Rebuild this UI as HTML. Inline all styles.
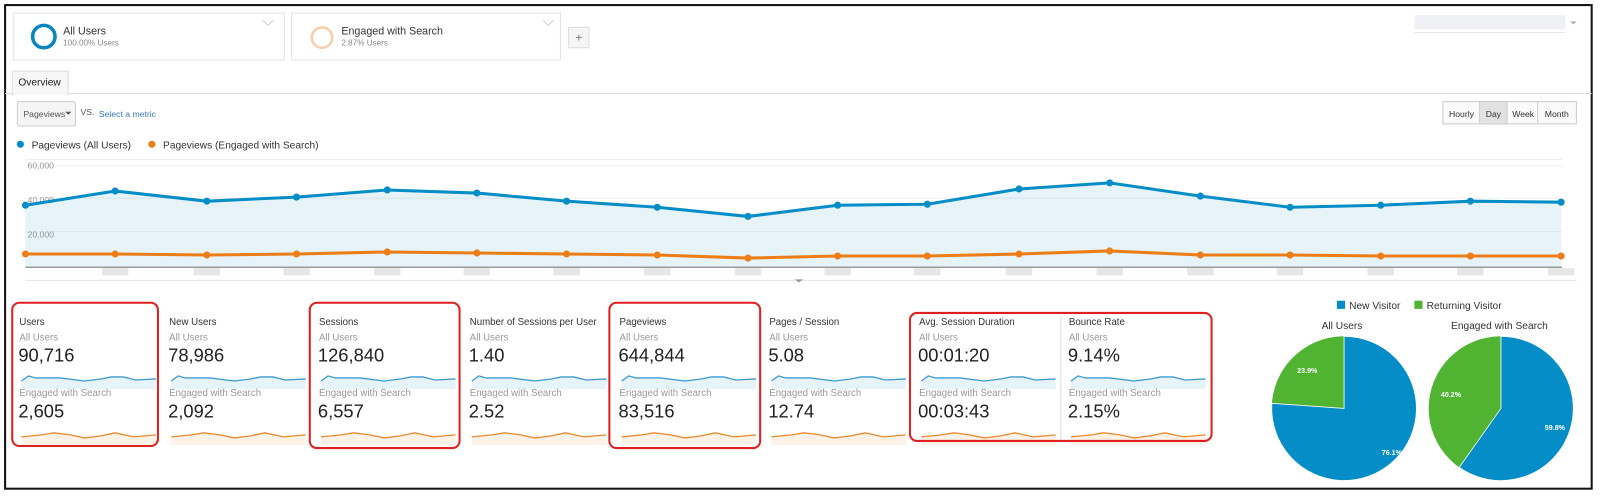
<!DOCTYPE html>
<html><head><meta charset="utf-8"><style>
html,body{margin:0;padding:0;background:#fff;width:1600px;height:497px;overflow:hidden;}
svg{display:block;font-family:"Liberation Sans",Arial,sans-serif;}
</style></head><body>
<svg width="1600" height="497" viewBox="0 0 1600 497" xmlns="http://www.w3.org/2000/svg">
<rect x="0" y="0" width="1600" height="497" fill="#fff"/>
<g transform="scale(1.019,1.016)">
<rect x="5" y="5" width="1557" height="476" fill="none" stroke="#111" stroke-width="2"/>
<!-- segments -->
<rect x="13" y="13" width="266" height="46" fill="#fff" stroke="#e3e3e3"/>
<circle cx="43" cy="36" r="11" fill="none" stroke="#0a85c0" stroke-width="3.5"/>
<text x="62" y="34" font-size="10.5" fill="#333">All Users</text>
<text x="62" y="45" font-size="8" fill="#888">100.00% Users</text>
<path d="M258 20 l5 5 l5 -5" fill="none" stroke="#ccc"/>
<rect x="286" y="13" width="264" height="46" fill="#fff" stroke="#e3e3e3"/>
<circle cx="316" cy="37" r="10" fill="none" stroke="#f6cfa8" stroke-width="2.5"/>
<text x="335" y="34" font-size="10.5" fill="#333">Engaged with Search</text>
<text x="335" y="45" font-size="8" fill="#888">2.87% Users</text>
<path d="M533 20 l5 5 l5 -5" fill="none" stroke="#ccc"/>
<rect x="558" y="27" width="20" height="20" fill="#f5f5f5" stroke="#ddd"/>
<text x="568" y="41" font-size="12" fill="#777" text-anchor="middle">+</text>
<rect x="1388" y="15" width="148" height="14" fill="#eef0f3"/>
<line x1="1388" y1="32" x2="1536" y2="32" stroke="#e8e8e8"/>
<path d="M1541 21 l3 3 l3 -3z" fill="#aaa"/>
<!-- tab -->
<line x1="5" y1="92" x2="1562" y2="92" stroke="#ddd"/>
<rect x="12" y="70" width="55" height="23" fill="#f7f7f7" stroke="#ddd"/>
<rect x="13" y="91" width="53" height="3" fill="#f7f7f7"/>
<text x="18" y="84" font-size="10" fill="#222">Overview</text>
<rect x="17" y="100" width="57" height="24" fill="#f5f5f5" stroke="#ccc" rx="2"/>
<text x="23" y="115" font-size="8.5" fill="#555">Pageviews</text>
<path d="M64 110 l3 3 l3 -3z" fill="#555"/>
<text x="79" y="113" font-size="8.5" fill="#555">VS.</text>
<text x="97" y="115" font-size="8.5" fill="#3a7bc0">Select a metric</text>
<g font-size="8.5" fill="#333">
<rect x="1416" y="100" width="131" height="22" fill="#fafafa" stroke="#ccc"/>
<rect x="1452" y="100" width="27" height="22" fill="#e2e2e2" stroke="#ccc"/>
<line x1="1509" y1="100" x2="1509" y2="122" stroke="#ccc"/>
<text x="1422" y="115">Hourly</text><text x="1458" y="115">Day</text><text x="1484" y="115">Week</text><text x="1516" y="115">Month</text>
</g>
<!-- legend -->
<circle cx="20" cy="142" r="3.5" fill="#058dc7"/>
<text x="31" y="146" font-size="10" fill="#333">Pageviews (All Users)</text>
<circle cx="149" cy="142" r="3.5" fill="#ed7e17"/>
<text x="160" y="146" font-size="10" fill="#333">Pageviews (Engaged with Search)</text>
<!-- chart -->
<line x1="25" y1="157" x2="1533" y2="157" stroke="#eee"/>
<line x1="25" y1="163" x2="1533" y2="163" stroke="#f0f0f0"/>
<line x1="25" y1="195" x2="1533" y2="195" stroke="#f0f0f0"/>
<line x1="25" y1="228" x2="1533" y2="228" stroke="#f0f0f0"/>
<g font-size="8.5" fill="#999"><text x="27" y="166">60,000</text><text x="27" y="200">40,000</text><text x="27" y="234">20,000</text></g>
<polygon fill="#058dc7" fill-opacity="0.1" points="25,262 25,202 113,188 203,198 291,194 380,187 468,190 556,198 645,204 734,213 822,202 910,201 1000,186 1089,180 1178,193 1266,204 1355,202 1443,198 1532,199 1532,262"/>
<polyline fill="none" stroke="#058dc7" stroke-width="3" points="25,202 113,188 203,198 291,194 380,187 468,190 556,198 645,204 734,213 822,202 910,201 1000,186 1089,180 1178,193 1266,204 1355,202 1443,198 1532,199"/>
<g fill="#058dc7"><circle cx="25" cy="202" r="3.5"/><circle cx="113" cy="188" r="3.5"/><circle cx="203" cy="198" r="3.5"/><circle cx="291" cy="194" r="3.5"/><circle cx="380" cy="187" r="3.5"/><circle cx="468" cy="190" r="3.5"/><circle cx="556" cy="198" r="3.5"/><circle cx="645" cy="204" r="3.5"/><circle cx="734" cy="213" r="3.5"/><circle cx="822" cy="202" r="3.5"/><circle cx="910" cy="201" r="3.5"/><circle cx="1000" cy="186" r="3.5"/><circle cx="1089" cy="180" r="3.5"/><circle cx="1178" cy="193" r="3.5"/><circle cx="1266" cy="204" r="3.5"/><circle cx="1355" cy="202" r="3.5"/><circle cx="1443" cy="198" r="3.5"/><circle cx="1532" cy="199" r="3.5"/></g>
<polyline fill="none" stroke="#ed7e17" stroke-width="3" points="25,250 113,250 203,251 291,250 380,248 468,249 556,250 645,251 734,254 822,252 910,252 1000,250 1089,247 1178,251 1266,251 1355,252 1443,252 1532,252"/>
<g fill="#ed7e17"><circle cx="25" cy="250" r="3.5"/><circle cx="113" cy="250" r="3.5"/><circle cx="203" cy="251" r="3.5"/><circle cx="291" cy="250" r="3.5"/><circle cx="380" cy="248" r="3.5"/><circle cx="468" cy="249" r="3.5"/><circle cx="556" cy="250" r="3.5"/><circle cx="645" cy="251" r="3.5"/><circle cx="734" cy="254" r="3.5"/><circle cx="822" cy="252" r="3.5"/><circle cx="910" cy="252" r="3.5"/><circle cx="1000" cy="250" r="3.5"/><circle cx="1089" cy="247" r="3.5"/><circle cx="1178" cy="251" r="3.5"/><circle cx="1266" cy="251" r="3.5"/><circle cx="1355" cy="252" r="3.5"/><circle cx="1443" cy="252" r="3.5"/><circle cx="1532" cy="252" r="3.5"/></g>
<line x1="25" y1="263" x2="1533" y2="263" stroke="#999" stroke-width="1.5"/>
<g fill="#e6e6e6">
<rect x="100" y="264" width="26" height="7"/><rect x="190" y="264" width="26" height="7"/><rect x="278" y="264" width="26" height="7"/><rect x="367" y="264" width="26" height="7"/><rect x="455" y="264" width="26" height="7"/><rect x="543" y="264" width="26" height="7"/><rect x="632" y="264" width="26" height="7"/><rect x="721" y="264" width="26" height="7"/><rect x="809" y="264" width="26" height="7"/><rect x="897" y="264" width="26" height="7"/><rect x="987" y="264" width="26" height="7"/><rect x="1076" y="264" width="26" height="7"/><rect x="1165" y="264" width="26" height="7"/><rect x="1253" y="264" width="26" height="7"/><rect x="1342" y="264" width="26" height="7"/><rect x="1430" y="264" width="26" height="7"/><rect x="1519" y="264" width="26" height="7"/>
</g>
<line x1="25" y1="276" x2="1547" y2="276" stroke="#e4e4e4"/>
<path d="M780 275 l4 3 l4 -3z" fill="#999"/>
<!-- metrics -->
<g font-size="9.5" fill="#333">
<text x="19" y="320">Users</text><text x="166" y="320">New Users</text><text x="313" y="320">Sessions</text><text x="461" y="320">Number of Sessions per User</text><text x="608" y="320">Pageviews</text><text x="755" y="320">Pages / Session</text><text x="902" y="320">Avg. Session Duration</text><text x="1049" y="320">Bounce Rate</text>
</g>
<g font-size="9.5" fill="#999">
<text x="19" y="335">All Users</text><text x="166" y="335">All Users</text><text x="313" y="335">All Users</text><text x="461" y="335">All Users</text><text x="608" y="335">All Users</text><text x="755" y="335">All Users</text><text x="902" y="335">All Users</text><text x="1049" y="335">All Users</text>
<text x="19" y="390">Engaged with Search</text><text x="166" y="390">Engaged with Search</text><text x="313" y="390">Engaged with Search</text><text x="461" y="390">Engaged with Search</text><text x="608" y="390">Engaged with Search</text><text x="755" y="390">Engaged with Search</text><text x="902" y="390">Engaged with Search</text><text x="1049" y="390">Engaged with Search</text>
</g>
<g font-size="18" fill="#222">
<text x="18" y="356">90,716</text><text x="165" y="356">78,986</text><text x="312" y="356">126,840</text><text x="460" y="356">1.40</text><text x="607" y="356">644,844</text><text x="754" y="356">5.08</text><text x="901" y="356">00:01:20</text><text x="1048" y="356">9.14%</text>
<text x="18" y="411">2,605</text><text x="165" y="411">2,092</text><text x="312" y="411">6,557</text><text x="460" y="411">2.52</text><text x="607" y="411">83,516</text><text x="754" y="411">12.74</text><text x="901" y="411">00:03:43</text><text x="1048" y="411">2.15%</text>
</g>
<defs>
<g id="sb"><path d="M0 8 L7 3 L14 5 L38 5 L62 8 L78 6 L88 4 L100 4 L112 7 L130 6 L132 6 L132 16 L0 16Z" fill="#058dc7" fill-opacity="0.1"/><path d="M0 8 L7 3 L14 5 L38 5 L62 8 L78 6 L88 4 L100 4 L112 7 L132 6" fill="none" stroke="#3d9bd0" stroke-width="1.3"/></g>
<g id="so"><path d="M0 8 L20 6 L32 4 L48 6 L62 9 L78 7 L92 4 L110 8 L132 6 L132 16 L0 16Z" fill="#ed7e17" fill-opacity="0.1"/><path d="M0 8 L20 6 L32 4 L48 6 L62 9 L78 7 L92 4 L110 8 L132 6" fill="none" stroke="#ed8a2e" stroke-width="1.3"/></g>
</defs>
<use href="#sb" x="21" y="367"/><use href="#sb" x="168" y="367"/><use href="#sb" x="315" y="367"/><use href="#sb" x="463" y="367"/><use href="#sb" x="610" y="367"/><use href="#sb" x="757" y="367"/><use href="#sb" x="904" y="367"/><use href="#sb" x="1051" y="367"/>
<use href="#so" x="21" y="422"/><use href="#so" x="168" y="422"/><use href="#so" x="315" y="422"/><use href="#so" x="463" y="422"/><use href="#so" x="610" y="422"/><use href="#so" x="757" y="422"/><use href="#so" x="904" y="422"/><use href="#so" x="1051" y="422"/>
<line x1="1041" y1="312" x2="1041" y2="436" stroke="#ddd"/>
<g fill="none" stroke="#e02020" stroke-width="2">
<rect x="12" y="298" width="143" height="141" rx="7"/>
<rect x="304" y="298" width="147" height="143" rx="7"/>
<rect x="598" y="298" width="148" height="143" rx="7"/>
<rect x="893" y="308" width="296" height="126" rx="7"/>
</g>
<!-- pies -->
<rect x="1312" y="296" width="8" height="8" fill="#058dc7"/>
<text x="1324" y="304" font-size="10" fill="#333">New Visitor</text>
<rect x="1388" y="296" width="8" height="8" fill="#50b432"/>
<text x="1400" y="304" font-size="10" fill="#333">Returning Visitor</text>
<text x="1297" y="324" font-size="10" fill="#333">All Users</text>
<text x="1424" y="324" font-size="10" fill="#333">Engaged with Search</text>
<circle cx="1319" cy="402" r="71" fill="#50b432"/>
<path d="M1319 402 L1319 331 A71 71 0 1 1 1248.2 397 Z" fill="#058dc7" stroke="#fff" stroke-width="0.8"/>
<circle cx="1473" cy="402" r="71" fill="#50b432"/>
<path d="M1473 402 L1473 331 A71 71 0 1 1 1432 460 Z" fill="#058dc7" stroke="#fff" stroke-width="0.8"/>
<g font-size="7" fill="#fff" font-weight="bold">
<text x="1273" y="367">23.9%</text><text x="1356" y="448">76.1%</text>
<text x="1414" y="391">40.2%</text><text x="1516" y="423">59.8%</text>
</g>
</g>
</svg>
</body></html>
